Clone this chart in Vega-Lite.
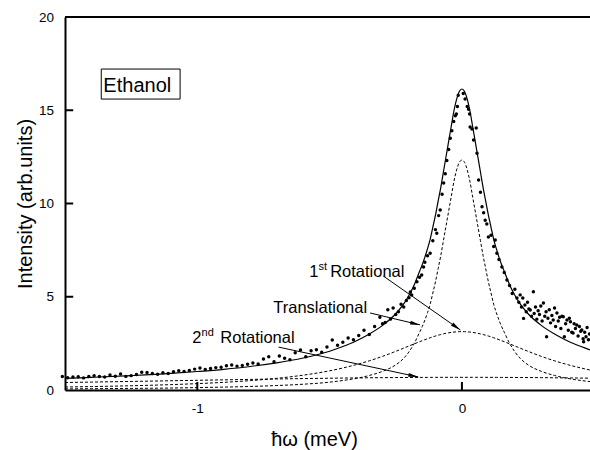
{
  "$schema": "https://vega.github.io/schema/vega-lite/v6.json",
  "width": 525,
  "height": 373,
  "autosize": {"type": "none"},
  "padding": {"left": 65, "top": 17, "right": 0, "bottom": 60},
  "background": "white",
  "config": {
    "view": {"stroke": null},
    "font": "Liberation Sans",
    "text": {"font": "Liberation Sans", "color": "black"}
  },
  "datasets": {
    "curves": [
      {"x": -1.5, "T": 0.06, "R1": 0.162, "R2": 0.401, "fit": 0.623},
      {"x": -1.4, "T": 0.07, "R1": 0.184, "R2": 0.424, "fit": 0.678},
      {"x": -1.25, "T": 0.085, "R1": 0.228, "R2": 0.459, "fit": 0.772},
      {"x": -1.1, "T": 0.105, "R1": 0.288, "R2": 0.495, "fit": 0.888},
      {"x": -1.0, "T": 0.13, "R1": 0.342, "R2": 0.52, "fit": 0.992},
      {"x": -0.9, "T": 0.155, "R1": 0.411, "R2": 0.544, "fit": 1.11},
      {"x": -0.8, "T": 0.19, "R1": 0.503, "R2": 0.568, "fit": 1.261},
      {"x": -0.7, "T": 0.24, "R1": 0.626, "R2": 0.591, "fit": 1.457},
      {"x": -0.6, "T": 0.31, "R1": 0.795, "R2": 0.612, "fit": 1.717},
      {"x": -0.5, "T": 0.42, "R1": 1.029, "R2": 0.631, "fit": 2.08},
      {"x": -0.45, "T": 0.51, "R1": 1.18, "R2": 0.64, "fit": 2.33},
      {"x": -0.4, "T": 0.62, "R1": 1.357, "R2": 0.648, "fit": 2.625},
      {"x": -0.35, "T": 0.78, "R1": 1.565, "R2": 0.655, "fit": 3.0},
      {"x": -0.3, "T": 1.0, "R1": 1.804, "R2": 0.662, "fit": 3.466},
      {"x": -0.25, "T": 1.35, "R1": 2.073, "R2": 0.667, "fit": 4.09},
      {"x": -0.22, "T": 1.7, "R1": 2.244, "R2": 0.67, "fit": 4.614},
      {"x": -0.2, "T": 2.05, "R1": 2.36, "R2": 0.672, "fit": 5.082},
      {"x": -0.18, "T": 2.5, "R1": 2.475, "R2": 0.673, "fit": 5.648},
      {"x": -0.16, "T": 3.1, "R1": 2.589, "R2": 0.674, "fit": 6.363},
      {"x": -0.15, "T": 3.4, "R1": 2.644, "R2": 0.675, "fit": 6.719},
      {"x": -0.14, "T": 3.75, "R1": 2.698, "R2": 0.676, "fit": 7.124},
      {"x": -0.13, "T": 4.15, "R1": 2.751, "R2": 0.676, "fit": 7.577},
      {"x": -0.12, "T": 4.6, "R1": 2.801, "R2": 0.677, "fit": 8.078},
      {"x": -0.11, "T": 5.2, "R1": 2.849, "R2": 0.677, "fit": 8.726},
      {"x": -0.1, "T": 5.8, "R1": 2.894, "R2": 0.678, "fit": 9.372},
      {"x": -0.09, "T": 6.5, "R1": 2.936, "R2": 0.678, "fit": 10.114},
      {"x": -0.08, "T": 7.2, "R1": 2.974, "R2": 0.679, "fit": 10.853},
      {"x": -0.07, "T": 8.0, "R1": 3.01, "R2": 0.679, "fit": 11.689},
      {"x": -0.06, "T": 8.8, "R1": 3.04, "R2": 0.679, "fit": 12.519},
      {"x": -0.05, "T": 9.6, "R1": 3.067, "R2": 0.68, "fit": 13.347},
      {"x": -0.04, "T": 10.4, "R1": 3.09, "R2": 0.68, "fit": 14.17},
      {"x": -0.03, "T": 11.2, "R1": 3.107, "R2": 0.68, "fit": 14.987},
      {"x": -0.02, "T": 11.8, "R1": 3.12, "R2": 0.68, "fit": 15.6},
      {"x": -0.01, "T": 12.2, "R1": 3.127, "R2": 0.68, "fit": 16.007},
      {"x": 0.0, "T": 12.33, "R1": 3.13, "R2": 0.68, "fit": 16.14},
      {"x": 0.01, "T": 12.2, "R1": 3.127, "R2": 0.68, "fit": 16.007},
      {"x": 0.02, "T": 11.8, "R1": 3.12, "R2": 0.68, "fit": 15.6},
      {"x": 0.03, "T": 11.2, "R1": 3.107, "R2": 0.68, "fit": 14.987},
      {"x": 0.04, "T": 10.4, "R1": 3.09, "R2": 0.68, "fit": 14.17},
      {"x": 0.05, "T": 9.6, "R1": 3.067, "R2": 0.68, "fit": 13.347},
      {"x": 0.06, "T": 8.8, "R1": 3.04, "R2": 0.679, "fit": 12.519},
      {"x": 0.07, "T": 8.0, "R1": 3.01, "R2": 0.679, "fit": 11.689},
      {"x": 0.08, "T": 7.2, "R1": 2.974, "R2": 0.679, "fit": 10.853},
      {"x": 0.09, "T": 6.5, "R1": 2.936, "R2": 0.678, "fit": 10.114},
      {"x": 0.1, "T": 5.8, "R1": 2.894, "R2": 0.678, "fit": 9.372},
      {"x": 0.11, "T": 5.2, "R1": 2.849, "R2": 0.677, "fit": 8.726},
      {"x": 0.12, "T": 4.6, "R1": 2.801, "R2": 0.677, "fit": 8.078},
      {"x": 0.13, "T": 4.15, "R1": 2.751, "R2": 0.676, "fit": 7.577},
      {"x": 0.14, "T": 3.75, "R1": 2.698, "R2": 0.676, "fit": 7.124},
      {"x": 0.15, "T": 3.4, "R1": 2.644, "R2": 0.675, "fit": 6.719},
      {"x": 0.16, "T": 3.1, "R1": 2.589, "R2": 0.674, "fit": 6.363},
      {"x": 0.18, "T": 2.5, "R1": 2.475, "R2": 0.673, "fit": 5.648},
      {"x": 0.2, "T": 2.05, "R1": 2.36, "R2": 0.672, "fit": 5.082},
      {"x": 0.22, "T": 1.7, "R1": 2.244, "R2": 0.67, "fit": 4.614},
      {"x": 0.25, "T": 1.35, "R1": 2.073, "R2": 0.667, "fit": 4.09},
      {"x": 0.3, "T": 1.0, "R1": 1.804, "R2": 0.662, "fit": 3.466},
      {"x": 0.35, "T": 0.78, "R1": 1.565, "R2": 0.655, "fit": 3.0},
      {"x": 0.4, "T": 0.62, "R1": 1.357, "R2": 0.648, "fit": 2.625},
      {"x": 0.45, "T": 0.51, "R1": 1.18, "R2": 0.64, "fit": 2.33},
      {"x": 0.484, "T": 0.45, "R1": 1.07, "R2": 0.634, "fit": 2.154}
    ],
    "points": [
      {"x": -1.51, "y": 0.72}, {"x": -1.49, "y": 0.66}, {"x": -1.47, "y": 0.7}, {"x": -1.45, "y": 0.71},
      {"x": -1.43, "y": 0.65}, {"x": -1.41, "y": 0.72}, {"x": -1.39, "y": 0.76}, {"x": -1.37, "y": 0.72},
      {"x": -1.35, "y": 0.7}, {"x": -1.33, "y": 0.8}, {"x": -1.31, "y": 0.74}, {"x": -1.29, "y": 0.86},
      {"x": -1.27, "y": 0.73}, {"x": -1.25, "y": 0.77}, {"x": -1.23, "y": 0.83}, {"x": -1.21, "y": 0.95},
      {"x": -1.19, "y": 0.94}, {"x": -1.17, "y": 0.88}, {"x": -1.15, "y": 0.84}, {"x": -1.13, "y": 0.92},
      {"x": -1.11, "y": 0.88}, {"x": -1.09, "y": 0.98}, {"x": -1.07, "y": 1.03}, {"x": -1.05, "y": 0.99},
      {"x": -1.03, "y": 1.05}, {"x": -1.01, "y": 1.12}, {"x": -0.99, "y": 1.18}, {"x": -0.97, "y": 1.1},
      {"x": -0.95, "y": 1.15}, {"x": -0.93, "y": 1.2}, {"x": -0.91, "y": 1.22}, {"x": -0.89, "y": 1.3},
      {"x": -0.87, "y": 1.34}, {"x": -0.85, "y": 1.28}, {"x": -0.83, "y": 1.32}, {"x": -0.81, "y": 1.38},
      {"x": -0.79, "y": 1.45}, {"x": -0.77, "y": 1.4}, {"x": -0.75, "y": 1.66}, {"x": -0.73, "y": 1.78},
      {"x": -0.71, "y": 1.52}, {"x": -0.69, "y": 1.82}, {"x": -0.67, "y": 1.7}, {"x": -0.65, "y": 1.62},
      {"x": -0.63, "y": 2.0}, {"x": -0.61, "y": 2.14}, {"x": -0.59, "y": 1.78}, {"x": -0.57, "y": 2.1},
      {"x": -0.55, "y": 2.16}, {"x": -0.53, "y": 2.02}, {"x": -0.51, "y": 2.3}, {"x": -0.49, "y": 2.68},
      {"x": -0.47, "y": 2.4}, {"x": -0.45, "y": 2.56}, {"x": -0.43, "y": 2.79}, {"x": -0.41, "y": 2.7},
      {"x": -0.39, "y": 2.92}, {"x": -0.37, "y": 3.2}, {"x": -0.35, "y": 2.98}, {"x": -0.33, "y": 3.4},
      {"x": -0.31, "y": 3.9}, {"x": -0.3, "y": 3.55}, {"x": -0.29, "y": 3.62}, {"x": -0.28, "y": 4.3},
      {"x": -0.27, "y": 3.8}, {"x": -0.26, "y": 4.4}, {"x": -0.25, "y": 4.05}, {"x": -0.24, "y": 4.2},
      {"x": -0.23, "y": 4.6}, {"x": -0.22, "y": 4.45}, {"x": -0.21, "y": 4.8}, {"x": -0.2, "y": 4.95},
      {"x": -0.195, "y": 5.25}, {"x": -0.19, "y": 5.1}, {"x": -0.18, "y": 5.45}, {"x": -0.17, "y": 5.8},
      {"x": -0.16, "y": 6.05}, {"x": -0.152, "y": 6.17}, {"x": -0.145, "y": 6.6}, {"x": -0.14, "y": 6.85},
      {"x": -0.13, "y": 7.2}, {"x": -0.12, "y": 7.33}, {"x": -0.11, "y": 8.0}, {"x": -0.1, "y": 8.6},
      {"x": -0.095, "y": 8.4}, {"x": -0.088, "y": 9.35}, {"x": -0.082, "y": 9.65}, {"x": -0.075, "y": 10.5},
      {"x": -0.069, "y": 11.1}, {"x": -0.063, "y": 11.6}, {"x": -0.057, "y": 12.3}, {"x": -0.05, "y": 12.9},
      {"x": -0.044, "y": 13.5}, {"x": -0.038, "y": 13.9}, {"x": -0.031, "y": 14.4}, {"x": -0.025, "y": 14.7},
      {"x": -0.021, "y": 14.8}, {"x": -0.017, "y": 15.2}, {"x": -0.014, "y": 15.8}, {"x": 0.005, "y": 15.9},
      {"x": 0.012, "y": 15.6}, {"x": 0.02, "y": 15.2}, {"x": 0.025, "y": 15.05}, {"x": 0.029, "y": 14.8},
      {"x": 0.031, "y": 14.1}, {"x": 0.038, "y": 14.0}, {"x": 0.044, "y": 13.4}, {"x": 0.054, "y": 14.05},
      {"x": 0.057, "y": 12.7}, {"x": 0.063, "y": 11.26}, {"x": 0.07, "y": 10.6}, {"x": 0.076, "y": 9.83},
      {"x": 0.082, "y": 9.5}, {"x": 0.088, "y": 9.1}, {"x": 0.094, "y": 8.9}, {"x": 0.1, "y": 8.2},
      {"x": 0.11, "y": 8.3}, {"x": 0.12, "y": 7.7}, {"x": 0.126, "y": 8.04}, {"x": 0.132, "y": 7.33},
      {"x": 0.14, "y": 7.0}, {"x": 0.151, "y": 6.6}, {"x": 0.16, "y": 6.3}, {"x": 0.17, "y": 5.9},
      {"x": 0.18, "y": 5.6}, {"x": 0.19, "y": 5.18}, {"x": 0.2, "y": 5.4}, {"x": 0.208, "y": 4.93},
      {"x": 0.215, "y": 4.7}, {"x": 0.22, "y": 5.1}, {"x": 0.225, "y": 4.45}, {"x": 0.23, "y": 4.93},
      {"x": 0.233, "y": 3.84}, {"x": 0.238, "y": 4.56}, {"x": 0.243, "y": 4.2}, {"x": 0.248, "y": 4.7},
      {"x": 0.253, "y": 4.35}, {"x": 0.258, "y": 4.29}, {"x": 0.263, "y": 3.95}, {"x": 0.27, "y": 5.27},
      {"x": 0.273, "y": 4.1}, {"x": 0.278, "y": 4.45}, {"x": 0.283, "y": 3.8}, {"x": 0.288, "y": 4.25},
      {"x": 0.293, "y": 4.05}, {"x": 0.298, "y": 4.5}, {"x": 0.303, "y": 3.7}, {"x": 0.308, "y": 4.66},
      {"x": 0.313, "y": 3.95}, {"x": 0.318, "y": 4.2}, {"x": 0.32, "y": 2.86}, {"x": 0.325, "y": 3.85},
      {"x": 0.33, "y": 4.3}, {"x": 0.335, "y": 3.6}, {"x": 0.34, "y": 4.0}, {"x": 0.345, "y": 3.75},
      {"x": 0.35, "y": 4.4}, {"x": 0.354, "y": 3.4}, {"x": 0.359, "y": 4.13}, {"x": 0.364, "y": 3.7},
      {"x": 0.369, "y": 3.9}, {"x": 0.374, "y": 3.3}, {"x": 0.378, "y": 3.95}, {"x": 0.383, "y": 3.93},
      {"x": 0.387, "y": 2.86}, {"x": 0.392, "y": 3.55}, {"x": 0.397, "y": 3.75}, {"x": 0.402, "y": 3.2},
      {"x": 0.406, "y": 3.85}, {"x": 0.41, "y": 3.66}, {"x": 0.415, "y": 3.1}, {"x": 0.42, "y": 3.06},
      {"x": 0.424, "y": 3.55}, {"x": 0.429, "y": 3.3}, {"x": 0.434, "y": 3.49}, {"x": 0.439, "y": 2.9},
      {"x": 0.444, "y": 3.4}, {"x": 0.449, "y": 3.15}, {"x": 0.453, "y": 3.22}, {"x": 0.458, "y": 2.75},
      {"x": 0.46, "y": 2.59}, {"x": 0.464, "y": 3.1}, {"x": 0.469, "y": 2.86}, {"x": 0.473, "y": 3.35},
      {"x": 0.478, "y": 2.7}, {"x": 0.482, "y": 3.0}
    ]
  },
  "encoding": {
    "x": {
      "field": "x",
      "type": "quantitative",
      "scale": {"domain": [-1.5, 0.484], "nice": false, "zero": false},
      "axis": {
        "values": [-1, 0],
        "labelExpr": "datum.value < 0 ? '-' + abs(datum.value) : datum.label",
        "grid": false,
        "ticks": false,
        "domainColor": "black",
        "domainWidth": 2,
        "labelPadding": 11,
        "labelFontSize": 13.5,
        "labelColor": "black",
        "labelFlush": false,
        "labelOverlap": false,
        "title": "ħω (meV)",
        "titleFontSize": 20,
        "titleFontWeight": "normal",
        "titleColor": "black",
        "titleX": 249,
        "titleY": 55,
        "titleAlign": "center",
        "titleBaseline": "alphabetic"
      }
    },
    "y": {
      "field": "y",
      "type": "quantitative",
      "scale": {"domain": [0, 20], "nice": false},
      "axis": {
        "values": [0, 5, 10, 15, 20],
        "grid": false,
        "ticks": false,
        "domainColor": "black",
        "domainWidth": 2,
        "labelPadding": 11.5,
        "labelFontSize": 13.5,
        "labelColor": "black",
        "labelFlush": false,
        "labelOverlap": false,
        "title": "Intensity (arb.units)",
        "titleFontSize": 20,
        "titleFontWeight": "normal",
        "titleColor": "black",
        "titleX": -34,
        "titleY": 186.5,
        "titleAngle": -90,
        "titleAlign": "center",
        "titleBaseline": "alphabetic"
      }
    }
  },
  "layer": [
    {
      "data": {"name": "curves"},
      "transform": [{"fold": ["T", "R1", "R2"], "as": ["component", "y"]}],
      "mark": {"type": "line", "color": "black", "strokeWidth": 1, "strokeDash": [3, 2], "interpolate": "monotone"},
      "encoding": {"detail": {"field": "component"}}
    },
    {
      "data": {"name": "curves"},
      "transform": [{"fold": ["fit"], "as": ["component", "y"]}],
      "mark": {"type": "line", "color": "black", "strokeWidth": 1.2, "interpolate": "monotone"},
      "encoding": {}
    },
    {
      "data": {"name": "points"},
      "mark": {"type": "point", "shape": "circle", "filled": true, "color": "black", "opacity": 1, "size": 12}
    },
    {
      "data": {"values": [
        {"x": -1.5, "x2": 0.484, "y": 20, "y2": 20},
        {"x": -1.5, "x2": -1.469, "y": 5, "y2": 5},
        {"x": -1.5, "x2": -1.469, "y": 10, "y2": 10},
        {"x": -1.5, "x2": -1.469, "y": 15, "y2": 15},
        {"x": -1, "x2": -1, "y": 0, "y2": 0.43},
        {"x": 0, "x2": 0, "y": 0, "y2": 0.43}
      ]},
      "mark": {"type": "rule", "color": "black", "strokeWidth": 2},
      "encoding": {"x2": {"field": "x2"}, "y2": {"field": "y2"}}
    },
    {
      "data": {"values": [{"x": -1.363, "x2": -1.065, "y": 17.21, "y2": 15.6}]},
      "mark": {"type": "rect", "fill": "white", "stroke": "black", "strokeWidth": 1},
      "encoding": {"x2": {"field": "x2"}, "y2": {"field": "y2"}}
    },
    {
      "data": {"values": [{"x": -1.355, "y": 15.99, "label": "Ethanol"}]},
      "mark": {"type": "text", "align": "left", "baseline": "alphabetic", "fontSize": 20},
      "encoding": {"text": {"field": "label"}}
    },
    {
      "data": {"values": [
        {"x": -0.297, "y": 6.11, "x2": -0.006, "y2": 3.22},
        {"x": -0.347, "y": 4.13, "x2": -0.158, "y2": 3.49},
        {"x": -0.693, "y": 2.3, "x2": -0.165, "y2": 0.7}
      ]},
      "mark": {"type": "rule", "color": "black", "strokeWidth": 1},
      "encoding": {"x2": {"field": "x2"}, "y2": {"field": "y2"}}
    },
    {
      "data": {"values": [{"x": -0.006, "y": 3.22}]},
      "mark": {"type": "point", "shape": "M0,0L0.4,2L-0.4,2Z", "filled": true, "color": "black", "opacity": 1, "size": 100, "angle": 125}
    },
    {
      "data": {"values": [{"x": -0.158, "y": 3.49}]},
      "mark": {"type": "point", "shape": "M0,0L0.4,2L-0.4,2Z", "filled": true, "color": "black", "opacity": 1, "size": 100, "angle": 103.5}
    },
    {
      "data": {"values": [{"x": -0.165, "y": 0.7}]},
      "mark": {"type": "point", "shape": "M0,0L0.4,2L-0.4,2Z", "filled": true, "color": "black", "opacity": 1, "size": 100, "angle": 102}
    },
    {
      "data": {"values": [
        {"x": -0.577, "y": 6.06, "label": "1"},
        {"x": -0.498, "y": 6.06, "label": "Rotational"},
        {"x": -0.713, "y": 4.13, "label": "Translational"},
        {"x": -1.019, "y": 2.52, "label": "2"},
        {"x": -0.913, "y": 2.52, "label": "Rotational"}
      ]},
      "mark": {"type": "text", "align": "left", "baseline": "alphabetic", "fontSize": 16.5},
      "encoding": {"text": {"field": "label"}}
    },
    {
      "data": {"values": [
        {"x": -0.542, "y": 6.45, "label": "st"},
        {"x": -0.984, "y": 2.91, "label": "nd"}
      ]},
      "mark": {"type": "text", "align": "left", "baseline": "alphabetic", "fontSize": 11},
      "encoding": {"text": {"field": "label"}}
    }
  ]
}
